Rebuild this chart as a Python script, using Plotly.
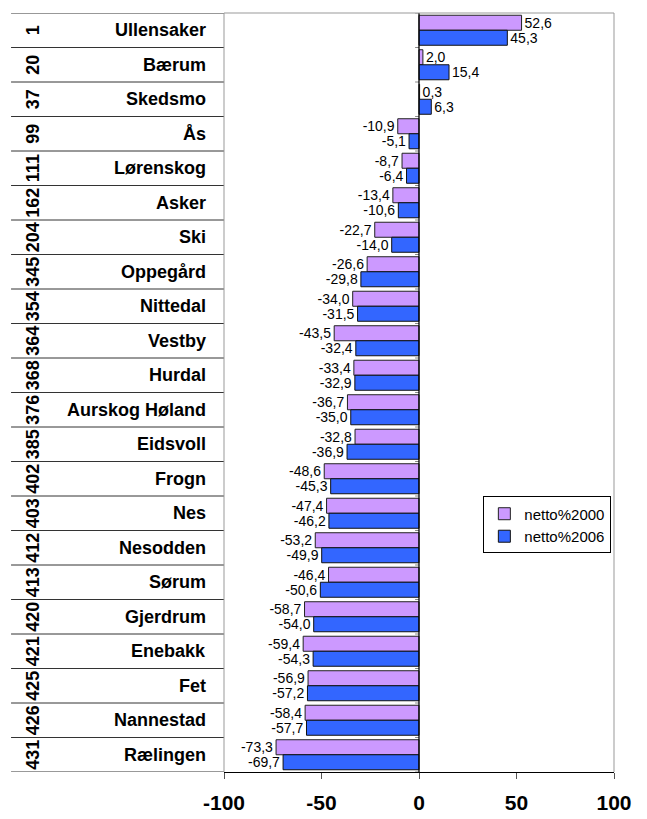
import plotly.graph_objects as go

ranks = [1, 20, 37, 99, 111, 162, 204, 345, 354, 364, 368, 376, 385, 402, 403, 412, 413, 420, 421, 425, 426, 431]
names = ["Ullensaker", "Bærum", "Skedsmo", "Ås", "Lørenskog", "Asker", "Ski", "Oppegård", "Nittedal",
         "Vestby", "Hurdal", "Aurskog Høland", "Eidsvoll", "Frogn", "Nes", "Nesodden", "Sørum",
         "Gjerdrum", "Enebakk", "Fet", "Nannestad", "Rælingen"]
netto2000 = [52.6, 2.0, 0.3, -10.9, -8.7, -13.4, -22.7, -26.6, -34.0, -43.5, -33.4, -36.7, -32.8,
             -48.6, -47.4, -53.2, -46.4, -58.7, -59.4, -56.9, -58.4, -73.3]
netto2006 = [45.3, 15.4, 6.3, -5.1, -6.4, -10.6, -14.0, -29.8, -31.5, -32.4, -32.9, -35.0, -36.9,
             -45.3, -46.2, -49.9, -50.6, -54.0, -54.3, -57.2, -57.7, -69.7]
x_ticks = [-100, -50, 0, 50, 100]

FONT = "Liberation Sans, Arial, sans-serif"

def fmt(v):
    return f"{v:.1f}".replace(".", ",")

idx = list(range(len(names)))

fig = go.Figure()
fig.add_trace(go.Bar(
    y=idx, x=netto2000, orientation="h", name="netto%2000",
    marker=dict(color="#CC99FF", line=dict(color="#222222", width=1)),
    text=[fmt(v) for v in netto2000], textposition="outside", constraintext="none",
    textfont=dict(family=FONT, size=14, color="black"), cliponaxis=False,
))
fig.add_trace(go.Bar(
    y=idx, x=netto2006, orientation="h", name="netto%2006",
    marker=dict(color="#3366FF", line=dict(color="#111111", width=1)),
    text=[fmt(v) for v in netto2006], textposition="outside", constraintext="none",
    textfont=dict(family=FONT, size=14, color="black"), cliponaxis=False,
))

shapes = []
n = len(names)
# table row lines on the left
for i in range(n + 1):
    shapes.append(dict(type="line", xref="paper", yref="y", x0=-0.546, x1=0, y0=i - 0.5, y1=i - 0.5,
                       line=dict(color="#333333", width=1)))
# small gray ticks on zero axis
for i in range(n + 1):
    shapes.append(dict(type="line", xref="x", yref="y", x0=0, x1=-2, y0=i - 0.5, y1=i - 0.5,
                       line=dict(color="#888888", width=1)))
# zero line
shapes.append(dict(type="line", xref="x", yref="paper", x0=0, x1=0, y0=0, y1=1,
                   line=dict(color="black", width=1.3)))
# plot frame (top, right, left) gray
shapes.append(dict(type="line", xref="paper", yref="paper", x0=0, x1=1, y0=1, y1=1,
                   line=dict(color="#999999", width=1)))
shapes.append(dict(type="line", xref="paper", yref="paper", x0=1, x1=1, y0=0, y1=1,
                   line=dict(color="#999999", width=1)))
shapes.append(dict(type="line", xref="paper", yref="paper", x0=0, x1=0, y0=0, y1=1,
                   line=dict(color="#999999", width=1)))

annotations = []
for i, (r, nm) in enumerate(zip(ranks, names)):
    annotations.append(dict(xref="paper", yref="y", x=-0.04, y=i, text=f"<b>{nm}</b>",
                            showarrow=False, xanchor="right", yanchor="middle",
                            font=dict(family=FONT, size=18, color="black")))
    annotations.append(dict(xref="paper", yref="y", x=-0.49, y=i, text=f"<b>{r}</b>",
                            showarrow=False, xanchor="center", yanchor="middle", textangle=-90,
                            font=dict(family=FONT, size=18, color="black")))

fig.update_layout(
    width=639, height=811,
    margin=dict(l=216, r=33, t=5, b=43),
    paper_bgcolor="white", plot_bgcolor="white",
    barmode="group", bargap=0.13, bargroupgap=0.0,
    font=dict(family=FONT, size=13, color="black"),
    xaxis=dict(range=[-100, 100], tickvals=x_ticks, ticktext=[f"<b>{t}</b>" for t in x_ticks],
               tickfont=dict(family=FONT, size=21, color="black"), ticklabelstandoff=6,
               showgrid=False, zeroline=False, showline=True, linecolor="black", linewidth=1,
               ticks="outside", ticklen=6, tickcolor="#555555", mirror=False),
    yaxis=dict(showticklabels=False, showgrid=False, zeroline=False,
               showline=False, range=[n - 0.5, -0.5], autorange=False),
    legend=dict(x=0.665, y=0.363, xanchor="left", yanchor="top",
                bordercolor="black", borderwidth=1, bgcolor="white",
                font=dict(family=FONT, size=15, color="black"),
                tracegroupgap=0, itemwidth=30, traceorder="normal"),
    shapes=shapes, annotations=annotations, showlegend=True,
)

fig.write_html("out.html")
